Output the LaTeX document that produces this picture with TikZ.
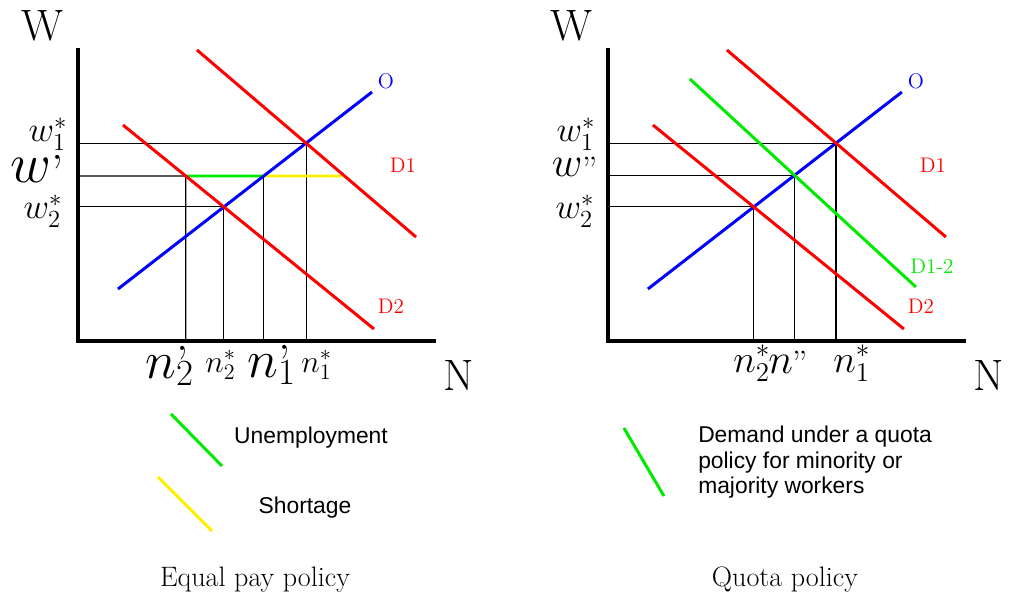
\RequirePackage{fix-cm}
\documentclass[tikz,border=0pt]{standalone}
\usepackage{fontspec}
\newfontfamily\legendsans{Liberation Sans}
\usepackage{xcolor}
\usepackage{tikz}
\usetikzlibrary{positioning, calc}
\definecolor{supblue}{RGB}{0,0,255}
\definecolor{demred}{RGB}{255,0,0}
\definecolor{quotagreen}{RGB}{0,235,0}
\definecolor{shortyellow}{RGB}{255,240,0}

\begin{document}
\begin{tikzpicture}[x=0.02cm, y=-0.02cm,
      axis/.style={line width=2.4pt},
      curve/.style={line width=1.7pt},
      guide/.style={line width=0.6pt},
      mlbl/.style={inner sep=0pt, font=\fontsize{#1}{#1}\selectfont},
      clbl/.style={inner sep=0pt, font=\fontsize{12}{14}\selectfont},
      leg/.style={inner sep=0pt, font=\legendsans\fontsize{13}{14.5}\selectfont},
      capt/.style={inner sep=0pt, anchor=base, font=\fontsize{16}{19}\selectfont}]

    \useasboundingbox (0,0) rectangle (1010,595);

    % Equal pay policy
    \begin{scope}
      \coordinate (lW) at (78,48);
      \coordinate (lO) at (78,341);
      \coordinate (lN) at (436,341);
      \draw[axis] (lW) -- (lO) -- (lN);
      \node[mlbl=25, anchor=base] (lWlbl) at (42,40) {W};
      \node[mlbl=25, anchor=base] (lNlbl) at (459,390) {N};

      \coordinate (lsa) at (118,289);
      \coordinate (lsb) at (372,92);
      \coordinate (l1a) at (197,50);
      \coordinate (l1b) at (416,237);
      \coordinate (l2a) at (123,125);
      \coordinate (l2b) at (374,329);
      \coordinate (le1) at (intersection of lsa--lsb and l1a--l1b);
      \coordinate (le2) at (intersection of lsa--lsb and l2a--l2b);
      % w' level
      \coordinate (lwa) at (78,176);
      \coordinate (lwb) at (436,176);
      \coordinate (lu1) at (intersection of lwa--lwb and l2a--l2b);
      \coordinate (lu2) at (intersection of lwa--lwb and lsa--lsb);
      \coordinate (lu3) at (intersection of lwa--lwb and l1a--l1b);

      \draw[guide] (lW |- le1) -- (le1) -- (lO -| le1);
      \draw[guide] (lW |- le2) -- (le2) -- (lO -| le2);
      \draw[guide] (lwa) -- (lu1) -- (lO -| lu1);
      \draw[guide] (lu2) -- (lO -| lu2);

      \draw[curve, quotagreen] (lu1) -- (lu2);
      \draw[curve, shortyellow] (lu2) -- ($(lu3)+(-2,0)$);
      \draw[curve, supblue] (lsa) -- (lsb);
      \draw[curve, demred] (l1a) -- (l1b);
      \draw[curve, demred] (l2a) -- (l2b);

      \node[clbl, supblue] (lOlbl) at (386,81) {O};
      \node[clbl, demred] (lD1lbl) at (403,165) {D1};
      \node[clbl, demred] (lD2lbl) at (391,306) {D2};

      \node[mlbl=20] (lw1) at (48,134) {$w_1^*$};
      \node[mlbl=32, anchor=base] (lwp) at (37,182)
        {$w$\fontsize{28}{28}\selectfont\raisebox{-4.5pt}{'}};
      \node[mlbl=20] (lw2) at (43,211) {$w_2^*$};

      \node[mlbl=30, anchor=base west] (lnp2) at (145,378)
        {$n\makebox[0pt][l]{\fontsize{28}{28}\selectfont\raisebox{-1.5pt}{'}}_2$};
      \node[mlbl=18, anchor=base west] (ln2) at (205,372) {$n_2^*$};
      \node[mlbl=30, anchor=base west] (lnp1) at (247,377)
        {$n\makebox[0pt][l]{\fontsize{28}{28}\selectfont\raisebox{-1.5pt}{'}}_1$};
      \node[mlbl=18, anchor=base west] (ln1) at (301,372) {$n_1^*$};

      % legend
      \coordinate (lga) at (171,414);
      \coordinate (lgb) at (222,466);
      \draw[curve, quotagreen] (lga) -- (lgb);
      \node[leg] (unemp) at (311,438) {Unemployment};
      \coordinate (lya) at (158,477);
      \coordinate (lyb) at (212,531);
      \draw[curve, shortyellow] (lya) -- (lyb);
      \node[leg] (short) at (305,508) {Shortage};

      \node[capt] (lcap) at (255,586) {Equal pay policy};
    \end{scope}

    % Quota policy
    \begin{scope}[xshift=10.6cm]
      \coordinate (rW) at (78,48);
      \coordinate (rO) at (78,341);
      \coordinate (rN) at (436,341);
      \draw[axis] (rW) -- (rO) -- (rN);
      \node[mlbl=25, anchor=base] (rWlbl) at (42,40) {W};
      \node[mlbl=25, anchor=base] (rNlbl) at (459,390) {N};

      \coordinate (rsa) at (118,289);
      \coordinate (rsb) at (372,92);
      \coordinate (r1a) at (197,50);
      \coordinate (r1b) at (416,237);
      \coordinate (r2a) at (123,125);
      \coordinate (r2b) at (374,329);
      \coordinate (rqa) at (160,79);
      \coordinate (rqb) at (386,287);
      \coordinate (re1) at (intersection of rsa--rsb and r1a--r1b);
      \coordinate (re2) at (intersection of rsa--rsb and r2a--r2b);
      \coordinate (req) at (intersection of rsa--rsb and rqa--rqb);

      \draw[guide] (rW |- re1) -- (re1) -- (rO -| re1);
      \draw[guide] (rW |- re2) -- (re2) -- (rO -| re2);
      \draw[guide] (rW |- req) -- (req) -- (rO -| req);

      \draw[curve, supblue] (rsa) -- (rsb);
      \draw[curve, quotagreen] (rqa) -- (rqb);
      \draw[curve, demred] (r1a) -- (r1b);
      \draw[curve, demred] (r2a) -- (r2b);

      \node[clbl, supblue] (rOlbl) at (386,81) {O};
      \node[clbl, demred] (rD1lbl) at (403,165) {D1};
      \node[clbl, quotagreen] (rD12lbl) at (402,266) {D1-2};
      \node[clbl, demred] (rD2lbl) at (391,306) {D2};

      \node[mlbl=20] (rw1) at (46,134) {$w_1^*$};
      \node[mlbl=24, anchor=base] (rwpp) at (45,176)
        {$w$\fontsize{20}{20}\selectfont\raisebox{-3pt}{''}};
      \node[mlbl=20] (rw2) at (45,211) {$w_2^*$};

      \node[mlbl=22, anchor=base west] (rn2) at (203,372) {$n_2^*$};
      \node[mlbl=24, anchor=base west] (rnpp) at (238,373)
        {$n$\fontsize{20}{20}\selectfont\raisebox{-1.5pt}{''}};
      \node[mlbl=22, anchor=base west] (rn1) at (303,372) {$n_1^*$};

      % legend
      \coordinate (rga) at (94,428);
      \coordinate (rgb) at (134,496);
      \draw[curve, quotagreen] (rga) -- (rgb);
      \node[leg, anchor=north west, align=left] (quota) at (168,426)
        {Demand under a quota\\policy for minority or\\majority workers};

      \node[capt] (rcap) at (255,586) {Quota policy};
    \end{scope}
  \end{tikzpicture}
\end{document}
